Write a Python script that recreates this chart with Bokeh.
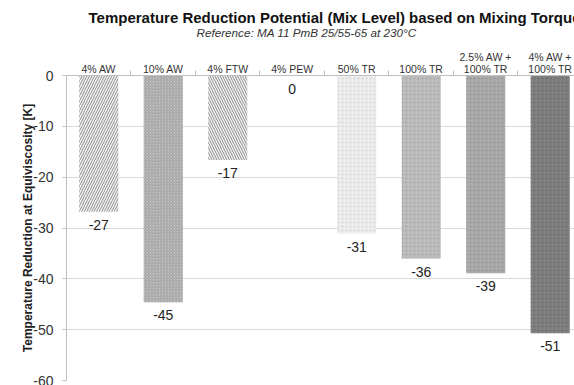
from bokeh.plotting import figure
from bokeh.models import ColumnDataSource, Range1d, FixedTicker, Title
from bokeh.core.properties import value
from bokeh.embed import file_html
from bokeh.resources import INLINE

categories = ["4% AW", "10% AW", "4% FTW", "4% PEW", "50% TR", "100% TR",
              "2.5% AW +\n100% TR", "4% AW +\n100% TR"]
reduction = [-26.8, -44.6, -16.6, 0.0, -31.1, -36.0, -38.9, -50.7]
value_labels = [str(round(v)) for v in reduction]
y_ticks = [0, -10, -20, -30, -40, -50, -60]

fills = ["#f4f4f4", "#c2c2c2", "#f4f4f4", "#ffffff", "#eeeeee", "#bdbdbd", "#ababab", "#808080"]
hatches = ["right_diagonal_line", "right_diagonal_line", "left_diagonal_line", "dot",
           "dot", "dot", "dot", "dot"]
hatch_colors = ["#8c8c8c", "#a0a0a0", "#8c8c8c", "#ffffff", "#d4d4d4", "#a6a6a6", "#939393", "#6c6c6c"]
hatch_scales = [5, 3, 5, 4, 4, 4, 4, 4]

FONT = "Liberation Sans"
centers = [i + 0.5 for i in range(len(categories))]
bounds = [float(i) for i in range(1, len(categories))]

src = ColumnDataSource(dict(x=centers, top=[0.0] * len(reduction), bottom=reduction,
                            fill=fills, hatch=hatches, hcolor=hatch_colors, hscale=hatch_scales,
                            lab=value_labels, ylab=reduction))

p = figure(width=574, height=385, x_range=Range1d(0, 7.876), y_range=Range1d(-60, 0),
           x_axis_location="above", output_backend="svg", toolbar_location=None)
p.min_border_left = 66
p.min_border_right = 0
p.min_border_top = 75
p.min_border_bottom = 5
p.outline_line_color = None
p.background_fill_color = "white"
p.border_fill_color = "white"

p.vbar(x="x", top="top", bottom="bottom", width=0.605, source=src,
       fill_color="fill", hatch_pattern="hatch", hatch_color="hcolor",
       hatch_scale="hscale", hatch_weight=1, line_color=None)

p.text(x="x", y="ylab", text="lab", source=src, text_align="center",
       text_baseline="middle", y_offset=13, text_font=value(FONT),
       text_font_size="14px", text_color="#222222")

# x axis (top)
xa = p.xaxis[0]
xa.ticker = FixedTicker(ticks=centers, minor_ticks=bounds)
xa.major_label_overrides = {c: lab for c, lab in zip(centers, categories)}
xa.axis_line_color = "#bfbfbf"
xa.major_tick_line_color = None
xa.major_tick_out = 0
xa.major_tick_in = 0
xa.minor_tick_line_color = "#bfbfbf"
xa.minor_tick_out = 5
xa.minor_tick_in = 0
xa.major_label_standoff = -4
xa.major_label_text_font = FONT
xa.major_label_text_font_size = "10.5px"
xa.major_label_text_line_height = 1.0
xa.major_label_text_color = "#333333"

# y axis
ya = p.yaxis[0]
ya.ticker = FixedTicker(ticks=y_ticks, minor_ticks=[])
ya.major_label_overrides = {t: str(t) for t in y_ticks}
ya.axis_line_color = "#bfbfbf"
ya.major_tick_line_color = "#bfbfbf"
ya.major_tick_out = 4
ya.major_tick_in = 0
ya.major_label_standoff = 9
ya.major_label_text_font = FONT
ya.major_label_text_font_size = "14px"
ya.major_label_text_color = "#333333"
ya.axis_label = "Temperature Reduction at Equiviscosity [K]"
ya.axis_label_text_font = FONT
ya.axis_label_text_font_style = "bold"
ya.axis_label_text_font_size = "12px"
ya.axis_label_text_color = "#222222"
ya.axis_label_standoff = -5

p.xgrid.visible = False
p.ygrid.ticker = FixedTicker(ticks=y_ticks, minor_ticks=[])
p.ygrid.grid_line_color = "#d9d9d9"

subtitle = Title(text="Reference: MA 11 PmB 25/55-65 at 230°C", align="left", offset=130,
                 text_font=FONT, text_font_style="italic", text_font_size="11.7px",
                 text_color="#333333", standoff=18)
title = Title(text="Temperature Reduction Potential (Mix Level) based on Mixing Torque",
              align="left", offset=22, text_font=FONT, text_font_style="bold",
              text_font_size="15px", text_color="#111111", standoff=-22,
              text_line_height=0.9)
p.add_layout(subtitle, "above")
p.add_layout(title, "above")

open("out.html", "w").write(file_html(p, INLINE))
